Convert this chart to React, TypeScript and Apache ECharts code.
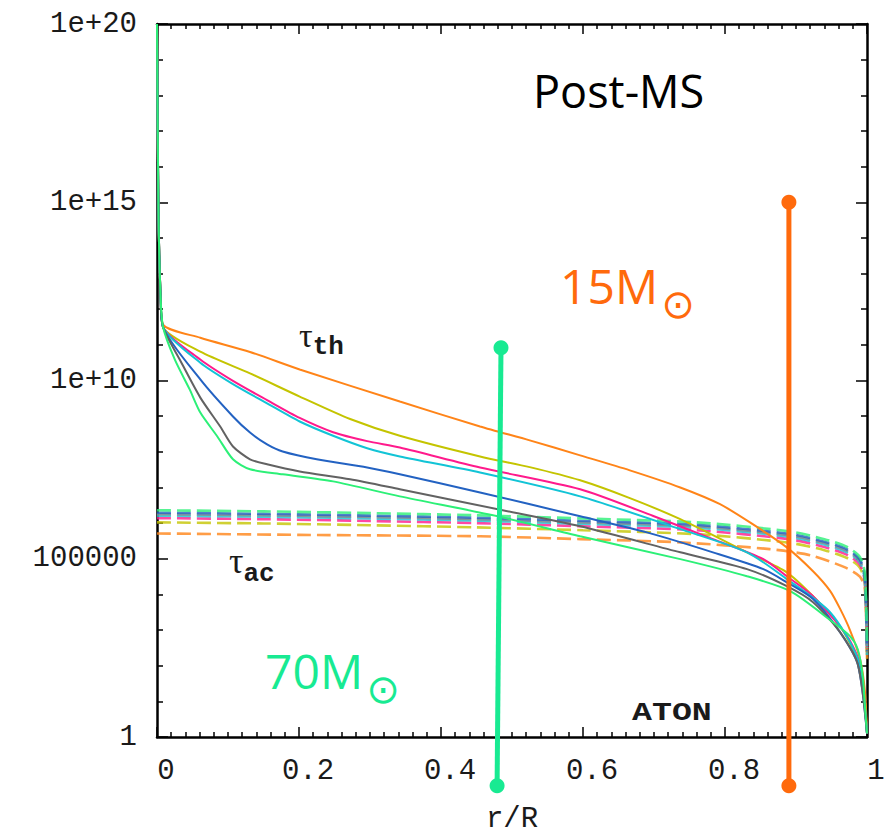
import { useEffect, useRef } from "react";
import * as echarts from "echarts";

// Radial coordinate r/R and log10 of the timescales (values are exponents of ten)
const xTickLabels = ["0", "0.2", "0.4", "0.6", "0.8", "1"];
const yTickLabels = ["1", "100000", "1e+10", "1e+15", "1e+20"];

// Thermal timescale profiles (solid)
const thOrange = [[0, 20], [0.002, 14.8], [0.005, 12.4], [0.0085, 11.57], [0.061, 11.2], [0.131, 10.8], [0.201, 10.31], [0.342, 9.41], [0.455, 8.71], [0.525, 8.32], [0.596, 7.9], [0.666, 7.48], [0.737, 7.0], [0.793, 6.53], [0.839, 5.97], [0.887, 5.32], [0.924, 4.65], [0.948, 4.1], [0.962, 3.6], [0.976, 3.0], [0.99, 2.2], [0.997, 1.3], [1, 0.1]];
const thOlive = [[0, 20], [0.002, 14.8], [0.005, 12.4], [0.0085, 11.5], [0.061, 10.81], [0.131, 10.2], [0.201, 9.55], [0.272, 8.92], [0.342, 8.45], [0.455, 7.87], [0.525, 7.57], [0.596, 7.2], [0.666, 6.7], [0.737, 6.11], [0.831, 5.18], [0.887, 4.62], [0.924, 3.95], [0.962, 3.11], [0.986, 2.18], [0.996, 1.2], [1, 0.1]];
const thMagenta = [[0, 20], [0.002, 14.8], [0.005, 12.4], [0.0085, 11.5], [0.061, 10.59], [0.107, 9.99], [0.155, 9.45], [0.201, 8.95], [0.248, 8.55], [0.296, 8.3], [0.342, 8.12], [0.455, 7.56], [0.596, 6.95], [0.699, 6.2], [0.783, 5.55], [0.854, 4.99], [0.887, 4.51], [0.924, 3.95], [0.972, 2.83], [0.99, 2.04], [1, 0.1]];
const thCyan = [[0, 20], [0.002, 14.8], [0.005, 12.4], [0.0085, 11.5], [0.061, 10.5], [0.107, 9.9], [0.155, 9.36], [0.201, 8.85], [0.248, 8.45], [0.296, 8.1], [0.342, 7.87], [0.455, 7.42], [0.596, 6.75], [0.737, 5.83], [0.831, 5.18], [0.887, 4.43], [0.948, 3.5], [0.987, 2.18], [1, 0.1]];
const thBlue = [[0, 20], [0.002, 14.8], [0.005, 12.4], [0.0085, 11.5], [0.061, 10.03], [0.107, 8.99], [0.131, 8.54], [0.155, 8.21], [0.177, 8.01], [0.225, 7.79], [0.296, 7.56], [0.342, 7.37], [0.455, 6.86], [0.596, 6.19], [0.69, 5.74], [0.783, 5.18], [0.854, 4.71], [0.887, 4.34], [0.924, 3.87], [0.962, 2.94], [0.987, 2.04], [1, 0.1]];
const thGray = [[0, 20], [0.002, 14.8], [0.005, 12.4], [0.0085, 11.5], [0.032, 10.59], [0.061, 9.52], [0.089, 8.71], [0.107, 8.15], [0.131, 7.79], [0.155, 7.65], [0.201, 7.45], [0.272, 7.23], [0.342, 6.95], [0.48, 6.39], [0.596, 5.91], [0.737, 5.18], [0.831, 4.71], [0.887, 4.23], [0.924, 3.78], [0.962, 2.94], [0.987, 2.04], [1, 0.1]];
const thGreen = [[0, 20], [0.002, 14.8], [0.005, 12.4], [0.0085, 11.5], [0.025, 10.59], [0.046, 9.75], [0.061, 9.1], [0.085, 8.43], [0.107, 7.79], [0.131, 7.51], [0.177, 7.37], [0.248, 7.17], [0.342, 6.75], [0.48, 6.19], [0.596, 5.63], [0.737, 4.99], [0.831, 4.51], [0.892, 4.09], [0.952, 3.22], [0.976, 2.83], [0.987, 2.46], [0.994, 1.71], [0.997, 0.87], [1, 0.1]];

// Acoustic timescale profiles (dashed)
const acGreen = [[0, 6.36], [0.15, 6.33], [0.3, 6.28], [0.45, 6.22], [0.6, 6.13], [0.76, 6.02], [0.89, 5.77], [0.94, 5.55], [0.972, 5.33], [0.99, 5.05], [0.997, 4.6], [1, 2.5]];
const acBlue = [[0, 6.29], [0.15, 6.26], [0.3, 6.21], [0.45, 6.15], [0.6, 6.06], [0.76, 5.95], [0.89, 5.7], [0.94, 5.48], [0.972, 5.26], [0.99, 4.98], [0.997, 4.5], [1, 2.4]];
const acGray = [[0, 6.25], [0.15, 6.22], [0.3, 6.17], [0.45, 6.11], [0.6, 6.02], [0.76, 5.91], [0.89, 5.66], [0.94, 5.44], [0.972, 5.22], [0.99, 4.94], [0.997, 4.45], [1, 2.4]];
const acCyan = [[0, 6.21], [0.15, 6.18], [0.3, 6.13], [0.45, 6.07], [0.6, 5.98], [0.76, 5.87], [0.89, 5.62], [0.94, 5.4], [0.972, 5.18], [0.99, 4.9], [0.997, 4.4], [1, 2.3]];
const acMagenta = [[0, 6.14], [0.15, 6.11], [0.3, 6.06], [0.45, 6.0], [0.6, 5.91], [0.76, 5.8], [0.89, 5.55], [0.94, 5.33], [0.972, 5.11], [0.99, 4.83], [0.997, 4.35], [1, 2.3]];
const acOlive = [[0, 6.02], [0.15, 5.99], [0.3, 5.94], [0.45, 5.88], [0.6, 5.8], [0.76, 5.69], [0.89, 5.45], [0.94, 5.24], [0.972, 5.02], [0.99, 4.75], [0.997, 4.3], [1, 2.2]];
const acOrange = [[0, 5.71], [0.2, 5.67], [0.455, 5.63], [0.596, 5.55], [0.737, 5.46], [0.863, 5.27], [0.92, 5.1], [0.97, 4.75], [0.99, 4.5], [0.997, 4.15], [1, 2.2]];

// Vertical markers for the 70 and 15 solar-mass models
const marker70 = [[0.4845, 10.92], [0.479, -1.37]];
const marker15 = [[0.89, 15], [0.89, -1.37]];

const C = {
  orange: "#ff8418",
  olive: "#c4c400",
  magenta: "#ff1a8c",
  cyan: "#12c4d6",
  blue: "#2362c2",
  gray: "#626262",
  green: "#2cf077",
  mark70: "#18ea92",
  mark15: "#ff6a0c",
};

const solid = (data: number[][], color: string) => ({
  type: "line",
  data,
  showSymbol: false,
  symbol: "none",
  smooth: 0.25,
  lineStyle: { color, width: 2 },
  z: 3,
});

const dashed = (data: number[][], color: string) => ({
  type: "line",
  data,
  showSymbol: false,
  symbol: "none",
  smooth: 0.25,
  lineStyle: { color, width: 2.6, type: [14, 6], opacity: 0.8 },
  z: 2,
});

const marker = (data: number[][], color: string) => ({
  type: "line",
  data,
  symbol: "circle",
  symbolSize: 15,
  clip: false,
  itemStyle: { color },
  lineStyle: { color, width: 5 },
  z: 10,
});

const mono = '"Liberation Mono", "DejaVu Sans Mono", monospace';
const serif = '"Liberation Serif", serif';
const ink = "#1a1a1a";

// Greek letter with a monospace subscript, as one text element
const tauLabel = (x: number, y: number, sub: string, tauSize: number, drop: number) => ({
  type: "text",
  x,
  y,
  style: {
    text: `{t|τ}{s|${sub}}`,
    verticalAlign: "top",
    rich: {
      t: { fontFamily: serif, fontSize: tauSize, fill: ink, verticalAlign: "top" },
      s: { fontFamily: mono, fontWeight: "bold", fontSize: 26, fill: ink, verticalAlign: "top", padding: [drop, 0, 0, 0] },
    },
  },
});

export default function App() {
  const ref = useRef<HTMLDivElement>(null);
  useEffect(() => {
    if (!ref.current) return;
    const chart = echarts.init(ref.current, null, { renderer: "svg" });
    const axisLine = { show: true, onZero: false, lineStyle: { color: "#000", width: 2.5 } };
    const xCommon = {
      type: "value",
      min: 0,
      max: 1,
      interval: 0.2,
      splitLine: { show: false },
      axisLine,
      axisTick: { show: true, inside: true, length: 10, lineStyle: { color: "#000", width: 1.5 } },
      minorTick: { show: true, splitNumber: 10, length: 5, lineStyle: { color: "#000", width: 1.5 } },
    };
    const yCommon = {
      type: "value",
      min: 0,
      max: 20,
      interval: 5,
      splitLine: { show: false },
      axisLine,
      axisTick: { show: true, inside: true, length: 11, lineStyle: { color: "#000", width: 1.5 } },
      minorTick: { show: true, splitNumber: 5, length: 6, lineStyle: { color: "#000", width: 1.5 } },
    };
    chart.setOption({
      animation: false,
      backgroundColor: "#fff",
      grid: { left: 157, right: 27, top: 24, bottom: 101, containLabel: false },
      xAxis: [
        {
          ...xCommon,
          position: "bottom",
          name: "r/R",
          nameLocation: "middle",
          nameGap: 68,
          nameTextStyle: { fontFamily: mono, fontSize: 29, color: ink },
          axisLabel: {
            show: true,
            margin: 20,
            fontFamily: mono,
            fontSize: 29,
            color: ink,
            padding: [0, 0, 0, 18],
            formatter: (v: number) => xTickLabels[Math.round(v / 0.2)] ?? "",
          },
        },
        { ...xCommon, position: "top", axisLabel: { show: false } },
      ],
      yAxis: [
        {
          ...yCommon,
          position: "left",
          axisLabel: {
            show: true,
            margin: 20,
            fontFamily: mono,
            fontSize: 29,
            color: ink,
            formatter: (v: number) => yTickLabels[Math.round(v / 5)] ?? "",
          },
        },
        { ...yCommon, position: "right", axisLabel: { show: false } },
      ],
      series: [
        dashed(acOrange, C.orange),
        dashed(acOlive, C.olive),
        dashed(acMagenta, C.magenta),
        dashed(acCyan, C.cyan),
        dashed(acGray, "#8a8a8a"),
        dashed(acBlue, C.blue),
        dashed(acGreen, C.green),
        solid(thOrange, C.orange),
        solid(thOlive, C.olive),
        solid(thMagenta, C.magenta),
        solid(thCyan, C.cyan),
        solid(thBlue, C.blue),
        solid(thGray, C.gray),
        solid(thGreen, C.green),
        marker(marker70, C.mark70),
        marker(marker15, C.mark15),
      ],
      graphic: [
        { type: "text", x: 533, y: 90, style: { text: "Post-MS", fontFamily: '"Open Sans", sans-serif', fontSize: 45, fill: "#000", verticalAlign: "middle" } },
        { type: "text", x: 560, y: 285, style: { text: "15M", fontFamily: '"Open Sans", sans-serif', fontSize: 48, fill: C.mark15, verticalAlign: "middle" } },
        { type: "text", x: 678, y: 304, style: { text: "⊙", fontFamily: '"DejaVu Sans", sans-serif', fontSize: 40, fill: C.mark15, align: "center", verticalAlign: "middle" } },
        { type: "text", x: 265, y: 670, style: { text: "70M", fontFamily: '"Open Sans", sans-serif', fontSize: 48, fill: C.mark70, verticalAlign: "middle" } },
        { type: "text", x: 383, y: 689, style: { text: "⊙", fontFamily: '"DejaVu Sans", sans-serif', fontSize: 40, fill: C.mark70, align: "center", verticalAlign: "middle" } },
        tauLabel(299, 318, "th", 34, 16),
        tauLabel(229, 543, "ac", 36, 18),
        { type: "text", x: 632, y: 714, scaleX: 1.33, style: { text: "ATON", fontFamily: mono, fontWeight: "bold", fontSize: 25, fill: ink, verticalAlign: "middle" } },
      ],
    });
    return () => chart.dispose();
  }, []);
  return <div ref={ref} style={{ position: "fixed", left: 0, top: 0, width: 894, height: 839, background: "#fff" }} />;
}
